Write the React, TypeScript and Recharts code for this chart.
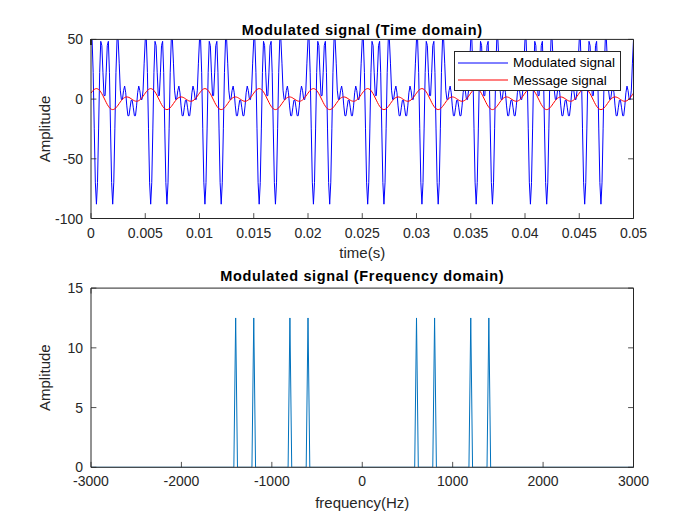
import React from "react"
import { Legend, Line, LineChart, XAxis, YAxis } from "recharts"

// one 5 ms period of the sampled signals (10 kHz), the picture repeats it 10 times
const modulatedPeriod = [
  50.0, 50.2, 22.4, -24.9, -69.6, -88.0, -69.9, -25.0, 22.3, 48.4,
  44.8, 22.5, 2.9, 2.9, 22.5, 44.8, 48.4, 22.3, -25.0, -69.9,
  -88.0, -69.6, -24.9, 22.4, 50.2, 50.0, 30.1, 7.5, -0.4, -0.1,
  7.1, 10.9, 5.3, -5.7, -13.9, -13.9, -7.3, -1.0, -1.0, -7.3,
  -13.9, -13.9, -5.7, 5.3, 10.9, 7.1, -0.1, -0.4, 7.5, 30.1,
]
const messagePeriod = [
  5.0, 6.2, 7.3, 8.1, 8.6, 8.8, 8.6, 8.1, 7.2, 6.0,
  4.5, 2.8, 0.9, -0.9, -2.8, -4.5, -6.0, -7.2, -8.1, -8.6,
  -8.8, -8.6, -8.1, -7.3, -6.2, -5.0, -3.7, -2.4, -1.2, -0.2,
  0.7, 1.3, 1.7, 1.8, 1.7, 1.4, 0.9, 0.3, -0.3, -0.9,
  -1.4, -1.7, -1.8, -1.7, -1.3, -0.7, 0.2, 1.2, 2.4, 3.7,
]
const periodCount = 10
const sampleStep = 0.0001
const legendOrder = ["Modulated signal", "Message signal"]

const timeTicks = [0, 0.005, 0.01, 0.015, 0.02, 0.025, 0.03, 0.035, 0.04, 0.045, 0.05]
const timeAmpTicks = [-100, -50, 0, 50]

// spectrum bins (Hz) and magnitudes
const specFreq = [
  -3000, -1420, -1400, -1380, -1220, -1200, -1180, -820, -800, -780, -620, -600, -580,
  580, 600, 620, 780, 800, 820, 1180, 1200, 1220, 1380, 1400, 1420, 3000,
]
const specAmp = [
  0, 0, 12.5, 0, 0, 12.5, 0, 0, 12.5, 0, 0, 12.5, 0,
  0, 12.5, 0, 0, 12.5, 0, 0, 12.5, 0, 0, 12.5, 0, 0,
]
const freqTicks = [-3000, -2000, -1000, 0, 1000, 2000, 3000]
const specAmpTicks = [0, 5, 10, 15]

const AXIS = "#262626"
const FONT = "'Liberation Sans', Arial, Helvetica, sans-serif"
const TICK_LEN = 5.4

const timeData: { t: number; mod: number; msg: number }[] = []
for (let p = 0; p < periodCount; p++) {
  modulatedPeriod.forEach((v, i) => {
    const k = p * modulatedPeriod.length + i
    timeData.push({ t: Number((k * sampleStep).toFixed(4)), mod: v, msg: messagePeriod[i] })
  })
}
timeData.push({ t: 0.05, mod: modulatedPeriod[0], msg: messagePeriod[0] })

const specData = specFreq.map((f, i) => ({ freq: f, amp: specAmp[i] }))

// MATLAB-style ticks: short marks pointing into the box, labels outside
function BottomTick(props: any) {
  const { x, y, payload } = props
  return (
    <g>
      <line x1={x} y1={y} x2={x} y2={y - TICK_LEN} stroke={AXIS} strokeWidth={0.8} />
      <text x={x} y={y + 19} textAnchor="middle" fontSize={14} fill={AXIS} fontFamily={FONT}>
        {String(payload.value)}
      </text>
    </g>
  )
}

function TopTick(props: any) {
  const { x, y } = props
  return <line x1={x} y1={y} x2={x} y2={y + TICK_LEN} stroke={AXIS} strokeWidth={0.8} />
}

function LeftTick(props: any) {
  const { x, y, payload } = props
  return (
    <g>
      <line x1={x} y1={y} x2={x + TICK_LEN} y2={y} stroke={AXIS} strokeWidth={0.8} />
      <text x={x - 8} y={y + 5} textAnchor="end" fontSize={14} fill={AXIS} fontFamily={FONT}>
        {String(payload.value)}
      </text>
    </g>
  )
}

function RightTick(props: any) {
  const { x, y } = props
  return <line x1={x} y1={y} x2={x - TICK_LEN} y2={y} stroke={AXIS} strokeWidth={0.8} />
}

function MatlabLegend({ payload }: any) {
  const items = [...(payload || [])].sort(
    (a: any, b: any) => legendOrder.indexOf(a.value) - legendOrder.indexOf(b.value)
  )
  return (
    <div
      style={{
        width: 167,
        height: 40,
        boxSizing: "border-box",
        border: `1px solid ${AXIS}`,
        background: "#fff",
        paddingTop: 2,
        fontFamily: FONT,
        fontSize: 13.5,
        color: "#000",
      }}
    >
      {items.map((entry: any) => (
        <div key={entry.value} style={{ display: "flex", alignItems: "center", height: 17.7 }}>
          <svg width={58} height={4} style={{ flex: "none" }}>
            <line x1={3} y1={2} x2={53} y2={2} stroke={entry.color} strokeWidth={1} />
          </svg>
          <span style={{ whiteSpace: "nowrap" }}>{entry.value}</span>
        </div>
      ))}
    </div>
  )
}

export default function App() {
  // plot box: x 91..633.5; axes take 1px each, so margins are 1px less
  const left = 90
  const right = 700 - 633.5 - 1
  const midX = (91 + 633.5) / 2
  const axisCommon = {
    type: "number" as const,
    interval: 0 as const,
    allowDataOverflow: true,
    tickSize: 0,
    tickMargin: 0,
    stroke: AXIS,
  }

  return (
    <div style={{ position: "absolute", left: 0, top: 0, width: 700, height: 525, background: "#fff" }}>
      <div style={{ position: "absolute", left: 0, top: 0 }}>
        <LineChart width={700} height={262} data={timeData} margin={{ top: 38.4, right, bottom: 42.5, left }}>
          <XAxis {...axisCommon} dataKey="t" domain={[0, 0.05]} ticks={timeTicks} height={1} tick={<BottomTick />} />
          <XAxis
            {...axisCommon}
            xAxisId="top"
            orientation="top"
            domain={[0, 0.05]}
            ticks={timeTicks}
            height={1}
            tick={<TopTick />}
          />
          <YAxis {...axisCommon} domain={[-100, 50]} ticks={timeAmpTicks} width={1} tick={<LeftTick />} />
          <YAxis
            {...axisCommon}
            yAxisId="right"
            orientation="right"
            domain={[-100, 50]}
            ticks={timeAmpTicks}
            width={1}
            tick={<RightTick />}
          />
          <Line
            type="linear"
            dataKey="mod"
            name="Modulated signal"
            stroke="#0000FF"
            strokeWidth={1}
            dot={false}
            activeDot={false}
            isAnimationActive={false}
          />
          <Line
            type="linear"
            dataKey="msg"
            name="Message signal"
            stroke="#FF0000"
            strokeWidth={1}
            dot={false}
            activeDot={false}
            isAnimationActive={false}
          />
          <Legend
            layout="vertical"
            align="center"
            verticalAlign="middle"
            content={<MatlabLegend />}
            wrapperStyle={{ position: "absolute", left: 454, top: 50.7, width: 167, height: 40 }}
          />
        </LineChart>
      </div>

      <div style={{ position: "absolute", left: 0, top: 262 }}>
        <LineChart width={700} height={263} data={specData} margin={{ top: 25.1, right, bottom: 56.7, left }}>
          <XAxis
            {...axisCommon}
            dataKey="freq"
            domain={[-3000, 3000]}
            ticks={freqTicks}
            height={1}
            tick={<BottomTick />}
          />
          <XAxis
            {...axisCommon}
            xAxisId="top"
            orientation="top"
            domain={[-3000, 3000]}
            ticks={freqTicks}
            height={1}
            tick={<TopTick />}
          />
          <YAxis {...axisCommon} domain={[0, 15]} ticks={specAmpTicks} width={1} tick={<LeftTick />} />
          <YAxis
            {...axisCommon}
            yAxisId="right"
            orientation="right"
            domain={[0, 15]}
            ticks={specAmpTicks}
            width={1}
            tick={<RightTick />}
          />
          <Line
            type="linear"
            dataKey="amp"
            stroke="#0072BD"
            strokeWidth={1}
            dot={false}
            activeDot={false}
            isAnimationActive={false}
          />
        </LineChart>
      </div>

      <svg
        width={700}
        height={525}
        style={{ position: "absolute", left: 0, top: 0, pointerEvents: "none" }}
        fontFamily={FONT}
      >
        <text x={midX} y={35} textAnchor="middle" fontSize={14.5} fontWeight="bold" letterSpacing={0.65} fill="#000">
          Modulated signal (Time domain)
        </text>
        <text x={midX} y={258.3} textAnchor="middle" fontSize={15} fill={AXIS}>
          time(s)
        </text>
        <text transform="translate(50,129) rotate(-90)" textAnchor="middle" fontSize={15} fill={AXIS}>
          Amplitude
        </text>
        <text x={midX} y={280.7} textAnchor="middle" fontSize={14.5} fontWeight="bold" letterSpacing={0.65} fill="#000">
          Modulated signal (Frequency domain)
        </text>
        <text x={midX} y={508} textAnchor="middle" fontSize={15} fill={AXIS}>
          frequency(Hz)
        </text>
        <text transform="translate(50,377.7) rotate(-90)" textAnchor="middle" fontSize={15} fill={AXIS}>
          Amplitude
        </text>
      </svg>
    </div>
  )
}
